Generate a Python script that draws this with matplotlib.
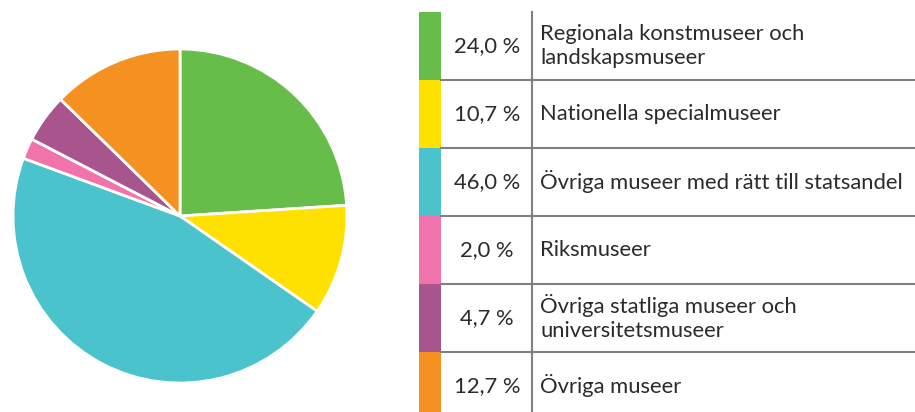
import matplotlib.pyplot as plt

# data
labels = ['Regionala konstmuseer och\nlandskapsmuseer',
          'Nationella specialmuseer',
          'Övriga museer med rätt till statsandel',
          'Riksmuseer',
          'Övriga statliga museer och\nuniversitetsmuseer',
          'Övriga museer']
shares = [24.0, 10.7, 46.0, 2.0, 4.7, 12.7]
colors = ['#67bd49', '#ffe100', '#4bc3cc', '#f073ab', '#a8558d', '#f59121']

plt.rcParams['font.family'] = ['Lato', 'DejaVu Sans']
text_col = '#2b2b2b'
grid_col = '#808080'

W, H = 915, 412
fig = plt.figure(figsize=(W / 100, H / 100), dpi=100)

# pie: centre (180, 216) px, radius 167 px
cx, cy, r = 180, 216, 167
ax_pie = fig.add_axes([(cx - r) / W, (H - cy - r) / H, 2 * r / W, 2 * r / H])
ax_pie.pie(shares, colors=colors, startangle=90, counterclock=False,
           wedgeprops=dict(edgecolor='white', linewidth=2))
ax_pie.set_xlim(-1, 1)
ax_pie.set_ylim(-1, 1)
ax_pie.axis('off')

# table with colour strip, percent and label
x0 = 419
ax_tab = fig.add_axes([x0 / W, 0, (W - x0) / W, 1])
row_top = 12
row_h = 68
ax_tab.set_xlim(x0, W)
ax_tab.set_ylim((H - row_top) / row_h, -row_top / row_h)
ax_tab.axis('off')

strip_right = 441
divider = 532
n = len(labels)
for i in range(n):
    ax_tab.fill_between([x0, strip_right], i, i + 1, color=colors[i], linewidth=0)
    pct = f'{shares[i]:.1f}'.replace('.', ',') + ' %'
    ax_tab.text(487, i + 0.5, pct, ha='center', va='center', fontsize=15.8, color=text_col)
    ax_tab.text(540, i + 0.5, labels[i], ha='left', va='center', fontsize=15.8,
                color=text_col, linespacing=1.25)
    if i > 0:
        ax_tab.plot([strip_right, W], [i, i], color=grid_col, linewidth=1.5)
ax_tab.plot([divider, divider], [0, n], color=grid_col, linewidth=1.5)

fig.savefig('out.png', dpi=100)
